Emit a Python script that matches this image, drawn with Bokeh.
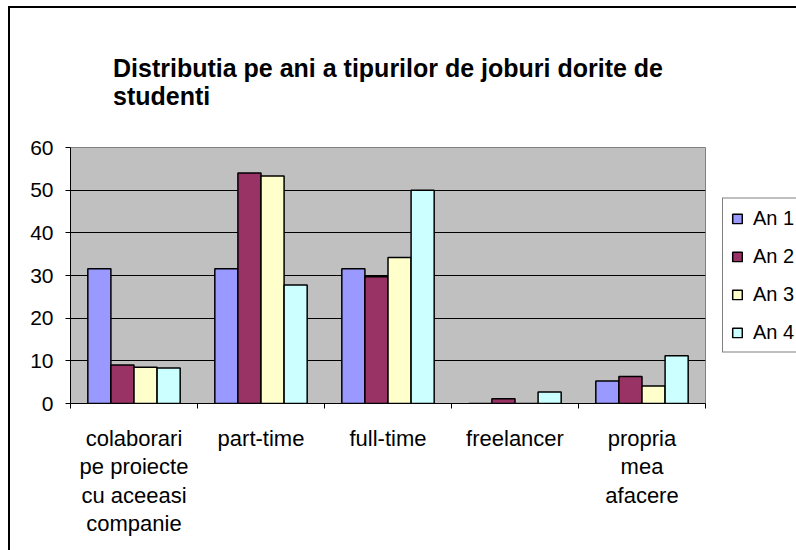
from bokeh.plotting import figure
from bokeh.models import (Range1d, FixedTicker, ColumnDataSource, Legend, LegendItem)
from bokeh.transform import dodge
from bokeh.embed import file_html
from bokeh.resources import INLINE

# ---- data ----
title_lines = ["Distributia pe ani a tipurilor de joburi dorite de", "studenti"]
categories = ["colaborari\npe proiecte\ncu aceeasi\ncompanie", "part-time", "full-time",
              "freelancer", "propria\nmea\nafacere"]
series_names = ["An 1", "An 2", "An 3", "An 4"]
an1 = [31.6, 31.6, 31.6, 0.0, 5.3]
an2 = [9.0, 54.0, 29.7, 1.1, 6.3]
an3 = [8.5, 53.3, 34.2, 0.0, 4.1]
an4 = [8.3, 27.8, 50.0, 2.7, 11.2]
y_ticks = [0, 10, 20, 30, 40, 50, 60]
colors = ["#9999FF", "#993366", "#FFFFCC", "#CCFFFF"]

FONT = "Liberation Sans"

ncat = len(categories)
xc = [k + 0.5 for k in range(ncat)]  # category centres on a 0..ncat axis
src = ColumnDataSource(dict(xc=xc, s0=an1, s1=an2, s2=an3, s3=an4))

p = figure(x_range=Range1d(0, ncat), y_range=Range1d(0, 60),
           frame_width=635, frame_height=256, output_backend="svg", toolbar_location=None,
           min_border_left=60, min_border_right=91, min_border_top=139, min_border_bottom=147,
           background_fill_color="#C0C0C0", border_fill_color="white",
           outline_line_color="#808080", outline_line_width=1)
p.styles = {"margin-left": "8px", "margin-top": "6px",
            "border-left": "2px solid black", "border-top": "2px solid black"}

# bars
n = len(series_names)
bw = 1.0 / (n + 1.5)
renderers = []
for i, (name, col) in enumerate(zip(series_names, colors)):
    off = (i - (n - 1) / 2.0) * bw
    r = p.vbar(x=dodge("xc", off), top="s%d" % i, width=bw, source=src,
               fill_color=col, line_color="black", line_width=1.5)
    renderers.append(r)

# y axis
ya = p.yaxis[0]
ya.ticker = FixedTicker(ticks=y_ticks)
ya.major_label_text_font = FONT
ya.major_label_text_font_size = "21px"
ya.major_label_text_color = "black"
ya.axis_line_color = "black"
ya.major_tick_line_color = "black"
ya.major_tick_out = 5
ya.major_tick_in = 0
ya.minor_tick_line_color = None
ya.major_label_standoff = 12

p.ygrid.ticker = FixedTicker(ticks=y_ticks[1:-1])
p.ygrid.grid_line_color = "black"
p.ygrid.grid_line_width = 1
p.xgrid.visible = False

# x axis: labels at category centres, tick marks at category boundaries
xa = p.xaxis[0]
xa.ticker = FixedTicker(ticks=xc, minor_ticks=list(range(ncat + 1)))
xa.major_label_overrides = {xc[k]: categories[k] for k in range(ncat)}
xa.major_label_text_font = FONT
xa.major_label_text_font_size = "22px"
xa.major_label_text_color = "black"
xa.major_label_text_line_height = 1.14
xa.major_label_standoff = 17
xa.major_tick_line_color = None
xa.major_tick_out = 0
xa.major_tick_in = 0
xa.minor_tick_line_color = "black"
xa.minor_tick_out = 5
xa.minor_tick_in = 0
xa.axis_line_color = "black"

# two-line title
p.title.text = "\n".join(title_lines)
p.title.align = "center"
p.title.text_font = FONT
p.title.text_font_size = "25px"
p.title.text_font_style = "bold"
p.title.text_color = "black"
p.title.standoff = 76

# legend in the right panel, vertically centred on the plot
legend = Legend(items=[LegendItem(label=nm, renderers=[r]) for nm, r in zip(series_names, renderers)],
                location="center_left", orientation="vertical",
                label_text_font=FONT, label_text_font_size="20px", label_text_color="black",
                glyph_width=12, glyph_height=12, label_height=20, spacing=15,
                padding=8, label_standoff=10, margin=17,
                border_line_color="black", border_line_width=1,
                background_fill_color="white", background_fill_alpha=1)
p.add_layout(legend, "right")

open("out.html", "w").write(file_html(p, INLINE))
